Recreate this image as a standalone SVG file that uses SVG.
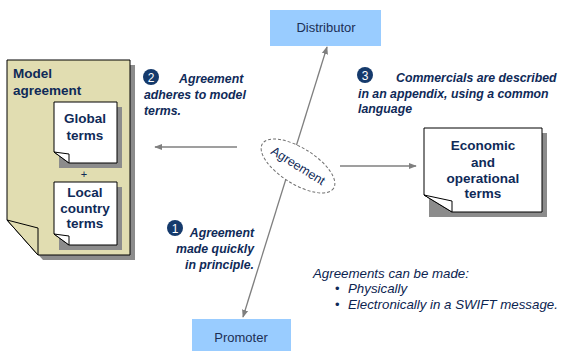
<svg xmlns="http://www.w3.org/2000/svg" width="561" height="351" viewBox="0 0 561 351">
<defs>
<marker id="ah" viewBox="0 0 10 10" refX="9" refY="5" markerWidth="8" markerHeight="8" markerUnits="userSpaceOnUse" orient="auto-start-reverse">
<path d="M0,1 L10,5 L0,9 Z" fill="#7f7f7f"/>
</marker>
</defs>
<style>
.doc{fill:#ffffff;stroke:#000000;stroke-width:1}
.shadow{fill:#8c8c8c}
.t{font-family:"Liberation Sans",Arial,sans-serif;fill:#0f2a58}
.docT{font-size:13.5px;font-weight:bold;text-anchor:middle}
.call{font-size:12.3px;font-weight:bold;font-style:italic}
.box{fill:#99ccff}
.boxT{font-size:13px;text-anchor:middle;fill:#1c2f55}
.conn{stroke:#7f7f7f;stroke-width:1.3;fill:none}
.badge{fill:#153a6c}
.num{font-family:"Liberation Sans",Arial,sans-serif;font-size:12px;fill:#ffffff;text-anchor:middle}
.note{font-size:13.3px;font-style:italic;fill:#0c2450}
</style>
<rect width="561" height="351" fill="#ffffff"/>

<g id="connectors">
<line class="conn" x1="243" y1="317" x2="327" y2="47" marker-start="url(#ah)" marker-end="url(#ah)"/>
<line class="conn" x1="237" y1="147" x2="155" y2="147" marker-end="url(#ah)"/>
<line class="conn" x1="340" y1="166" x2="416" y2="166" marker-end="url(#ah)"/>
</g>

<g id="model-agreement">
<path class="shadow" d="M12,65 H135 V260 H43 L12,225 Z"/>
<path d="M7,60 H130 V255 H38 L7,220 Z" fill="#e1ddb1" stroke="#000" stroke-width="1"/>
<path d="M7,220 L38,228 L38,255 Z" fill="#e1ddb1" stroke="#000" stroke-width="1"/>
<text class="t" x="13" y="78" font-size="13.5" font-weight="bold">Model</text>
<text class="t" x="13" y="95" font-size="13.5" font-weight="bold">agreement</text>
</g>

<g id="global-terms">
<path class="shadow" d="M59,107 H122 V168 H59 Z"/>
<path class="doc" d="M54,102 H117 V163 H69 L54,152 Z"/>
<path class="doc" d="M54,152 L69,154 L69,163 Z"/>
<text class="t docT" x="85" y="123">Global</text>
<text class="t docT" x="85" y="140">terms</text>
</g>

<text class="t" x="84" y="178" font-size="11" text-anchor="middle">+</text>

<g id="local-country-terms">
<path class="shadow" d="M59,187 H122 V250 H59 Z"/>
<path class="doc" d="M54,182 H117 V245 H69 L54,234 Z"/>
<path class="doc" d="M54,234 L69,236 L69,245 Z"/>
<text class="t docT" x="85" y="197">Local</text>
<text class="t docT" x="85" y="213">country</text>
<text class="t docT" x="85" y="228">terms</text>
</g>

<g id="economic-terms">
<path class="shadow" d="M429,133 H547 V217 H429 Z"/>
<path class="doc" d="M424,128 H542 V212 H452 L424,195 Z"/>
<path class="doc" d="M424,195 L452,201 L452,212 Z"/>
<text class="t docT" x="483" y="150">Economic</text>
<text class="t docT" x="483" y="167">and</text>
<text class="t docT" x="483" y="183">operational</text>
<text class="t docT" x="483" y="198">terms</text>
</g>

<g id="distributor">
<rect class="box" x="270" y="10" width="111" height="36"/>
<text class="t boxT" x="326" y="32">Distributor</text>
</g>

<g id="promoter">
<rect class="box" x="192" y="319" width="99" height="32"/>
<text class="t boxT" x="241" y="342">Promoter</text>
</g>

<g id="agreement">
<ellipse cx="298" cy="166" rx="42" ry="18" transform="rotate(32 298 166)" fill="#ffffff" stroke="#6f6f6f" stroke-width="1" stroke-dasharray="3,2"/>
<text class="t" x="298" y="166" font-size="12.5" text-anchor="middle" dominant-baseline="central" fill="#1f3a6e" transform="rotate(32 298 166)">Agreement</text>
</g>

<g id="callout-1">
<circle class="badge" cx="175" cy="228" r="8"/>
<text class="num" x="175" y="232.5">1</text>
<text class="t call" x="254" y="237" text-anchor="end">Agreement</text>
<text class="t call" x="254" y="253" text-anchor="end">made quickly</text>
<text class="t call" x="254" y="269" text-anchor="end">in principle.</text>
</g>

<g id="callout-2">
<circle class="badge" cx="151" cy="77" r="8"/>
<text class="num" x="151" y="81.5">2</text>
<text class="t call" x="179" y="83">Agreement</text>
<text class="t call" x="144" y="99">adheres to model</text>
<text class="t call" x="144" y="115">terms.</text>
</g>

<g id="callout-3">
<circle class="badge" cx="365" cy="75" r="8"/>
<text class="num" x="365" y="79.5">3</text>
<text class="t call" x="396" y="82">Commercials are described</text>
<text class="t call" x="358" y="98">in an appendix, using a common</text>
<text class="t call" x="358" y="113">language</text>
</g>

<g id="note">
<text class="t note" x="313" y="278">Agreements can be made:</text>
<text class="t" x="335" y="293" font-size="13">•</text>
<text class="t note" x="348" y="293">Physically</text>
<text class="t" x="335" y="309" font-size="13">•</text>
<text class="t note" x="348" y="309">Electronically in a SWIFT message.</text>
</g>
</svg>
